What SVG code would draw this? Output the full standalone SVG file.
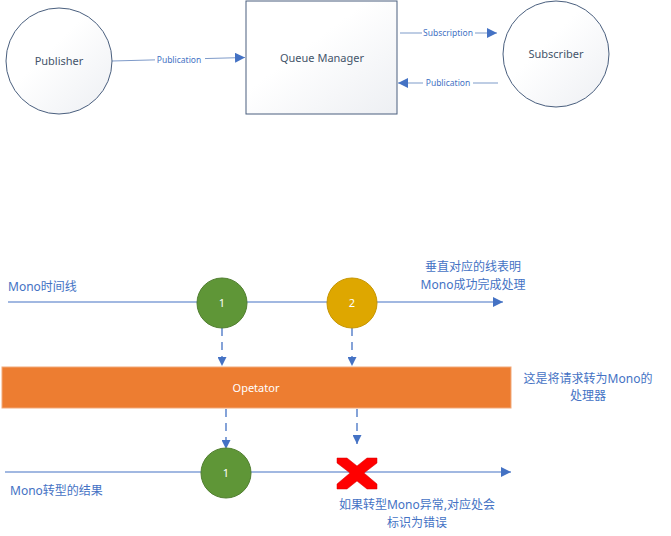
<svg xmlns="http://www.w3.org/2000/svg" width="671" height="536" viewBox="0 0 671 536">
<defs>
<linearGradient id="g" x1="0" y1="0" x2="1" y2="1">
<stop offset="0" stop-color="#ffffff"/>
<stop offset="0.4" stop-color="#ffffff"/>
<stop offset="1" stop-color="#edeff3"/>
</linearGradient>
<marker id="ah" viewBox="0 0 10 10" refX="10" refY="5" markerWidth="10" markerHeight="10" markerUnits="userSpaceOnUse" orient="auto">
<path d="M0,0 L10,5 L0,10 z" fill="#4472C4"/>
</marker>
<marker id="ahs" viewBox="0 0 10 10" refX="10" refY="5" markerWidth="9" markerHeight="9" markerUnits="userSpaceOnUse" orient="auto">
<path d="M0,0 L10,5 L0,10 z" fill="#4472C4"/>
</marker>
</defs>
<style>
.n{fill:url(#g);stroke:#4a5f7e;stroke-width:1}
.t{font-family:"Noto Sans","Open Sans",sans-serif;font-size:11px;fill:#44546A;text-anchor:middle}
.lb{font-family:"Noto Sans","Open Sans",sans-serif;font-size:8.5px;fill:#4472C4;text-anchor:middle}
.cn{font-family:"Noto Sans","Noto Sans CJK SC",sans-serif;font-size:12px;fill:#4472C4}
.c{stroke:#4472C4;stroke-width:1.2;fill:none}
.cl{stroke:#7f9bc9;stroke-width:1.2;fill:none}
.d{stroke:#4472C4;stroke-width:1.3;fill:none;stroke-dasharray:8,6}
.w{font-family:"Noto Sans","Open Sans",sans-serif;font-size:11px;fill:#ffffff;text-anchor:middle}
.lbg{fill:#ffffff}
</style>
<g id="connectors">
<line class="cl" x1="112" y1="61" x2="245" y2="57.5" marker-end="url(#ah)"/>
<line class="cl" x1="400" y1="33" x2="497" y2="33" marker-end="url(#ah)"/>
<line class="cl" x1="498" y1="83" x2="398" y2="83" marker-end="url(#ah)"/>
<rect class="lbg" x="155" y="54" width="50" height="11"/>
<text class="lb" x="179" y="62.5">Publication</text>
<rect class="lbg" x="422" y="28" width="53" height="11"/>
<text class="lb" x="448" y="36">Subscription</text>
<rect class="lbg" x="423" y="78" width="50" height="11"/>
<text class="lb" x="448" y="86">Publication</text>
<line class="c" x1="8" y1="302" x2="503" y2="302" marker-end="url(#ah)"/>
<line class="c" x1="5" y1="472" x2="511" y2="472" marker-end="url(#ah)"/>
<line class="d" x1="222" y1="328" x2="222" y2="366" marker-end="url(#ahs)"/>
<line class="d" x1="352" y1="328" x2="352" y2="366" marker-end="url(#ahs)"/>
<line class="d" x1="226" y1="409" x2="226" y2="449" marker-end="url(#ahs)"/>
<line class="d" x1="357" y1="409" x2="357" y2="444" marker-end="url(#ahs)"/>
</g>
<g id="publisher">
<circle class="n" cx="59" cy="61" r="53"/>
<text class="t" x="59" y="65">Publisher</text>
</g>
<g id="queue-manager">
<rect class="n" x="246" y="1" width="151" height="113"/>
<text class="t" x="322" y="62">Queue Manager</text>
</g>
<g id="subscriber">
<circle class="n" cx="556" cy="54" r="53"/>
<text class="t" x="556" y="58">Subscriber</text>
</g>
<g id="mono-timeline-label">
<text class="cn" x="8" y="291">Mono时间线</text>
</g>
<g id="success-note">
<text class="cn" x="473" y="271" text-anchor="middle">垂直对应的线表明</text>
<text class="cn" x="473" y="289" text-anchor="middle">Mono成功完成处理</text>
</g>
<g id="item1-top">
<circle cx="222" cy="303" r="25" fill="#5F9637" stroke="#507e2f" stroke-width="1"/>
<text class="w" x="222" y="307">1</text>
</g>
<g id="item2-top">
<circle cx="352" cy="303" r="25" fill="#DEA700" stroke="#c69500" stroke-width="1"/>
<text class="w" x="352" y="307">2</text>
</g>
<g id="operator">
<rect x="2" y="367" width="509" height="41" fill="#ED7D31" stroke="#f1a97a" stroke-width="1"/>
<text class="w" x="256" y="392">Opetator</text>
</g>
<g id="operator-note">
<text class="cn" x="588" y="383" text-anchor="middle">这是将请求转为Mono的</text>
<text class="cn" x="588" y="400" text-anchor="middle">处理器</text>
</g>
<g id="item1-bottom">
<circle cx="226" cy="473" r="25" fill="#5F9637" stroke="#507e2f" stroke-width="1"/>
<text class="w" x="226" y="477">1</text>
</g>
<g id="error-x">
<polygon points="337,458 347,458 357,466 367,458 377,458 377,463 364,473 377,484 377,489 367,489 357,481 347,489 337,489 337,484 350,473 337,463" fill="#FF0000" stroke="#d00000" stroke-width="0.5"/>
</g>
<g id="result-label">
<text class="cn" x="10" y="495">Mono转型的结果</text>
</g>
<g id="error-note">
<text class="cn" x="417" y="509" text-anchor="middle">如果转型Mono异常,对应处会</text>
<text class="cn" x="417" y="527" text-anchor="middle">标识为错误</text>
</g>
</svg>
